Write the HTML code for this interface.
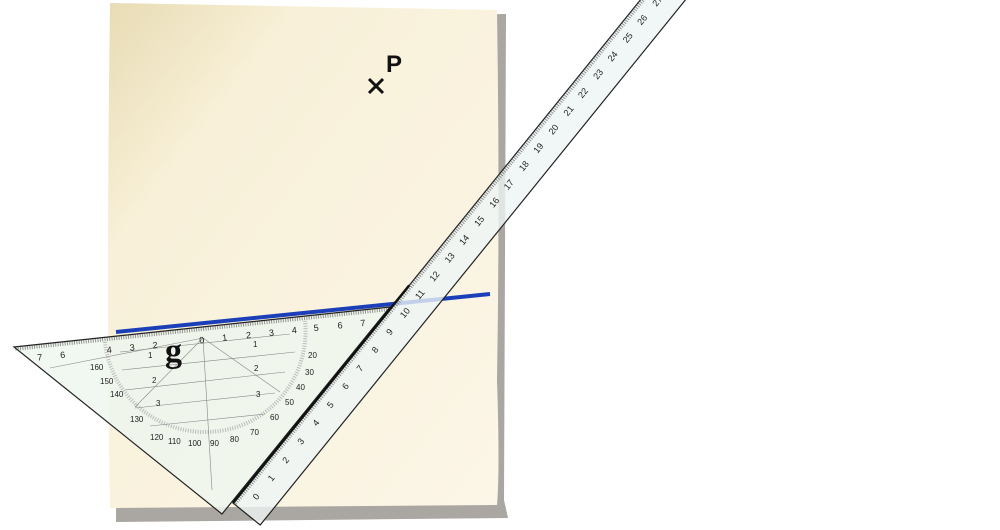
<!DOCTYPE html>
<html><head><meta charset="utf-8"><style>
html,body{margin:0;padding:0;background:#fff;width:1000px;height:530px;overflow:hidden}
svg text{font-family:"Liberation Sans",sans-serif}
</style></head><body>
<svg width="1000" height="530" viewBox="0 0 1000 530" xmlns="http://www.w3.org/2000/svg">
<defs>
<linearGradient id="pg" x1="0" y1="0" x2="1" y2="1">
<stop offset="0" stop-color="#e8dcb4"/><stop offset="0.25" stop-color="#f8f0d8"/><stop offset="1" stop-color="#fcf6e8"/>
</linearGradient>
<pattern id="rt" width="2.36" height="35" patternUnits="userSpaceOnUse" x="20">
<line x1="0.5" y1="0" x2="0.5" y2="4" stroke="#333" stroke-width="0.5"/>
</pattern>
</defs>
<path d="M118 20 L506 14 L504 500 L508 518 L116 522 Z" fill="#aaa6a2"/>
<path d="M110 3 L497 10 Q500 200 497 380 Q500 470 497 505 L110 508 Q106 300 110 3 Z" fill="url(#pg)"/>
<path d="M369 79 L383 93 M383 79 L369 93" stroke="#111" stroke-width="3"/>
<text x="386" y="72" font-size="24" font-weight="bold" fill="#111">P</text>
<line x1="116" y1="332" x2="490" y2="294" stroke="#1a3fb8" stroke-width="4"/>
<polygon points="14,347 390,307 222,514" fill="#eef6ee" fill-opacity="0.85" stroke="#222" stroke-width="1.2"/>
<g stroke="#888" stroke-width="0.6" fill="none">
<path d="M105 342 A100 100 0 0 0 305 321" stroke-dasharray="1 1.5" stroke-width="4" stroke="#bbb"/>
<line x1="120" y1="352" x2="290" y2="334"/><line x1="122" y1="370" x2="295" y2="352"/>
<line x1="125" y1="390" x2="285" y2="372"/><line x1="135" y1="408" x2="275" y2="393"/>
<line x1="150" y1="426" x2="265" y2="414"/>
<line x1="203" y1="338" x2="212" y2="490"/><line x1="203" y1="338" x2="135" y2="407"/>
<line x1="203" y1="338" x2="280" y2="392"/><line x1="203" y1="338" x2="50" y2="368"/>
</g>
<g transform="translate(14,347) rotate(-6.07)">
<rect x="0" y="0" width="376" height="6" fill="url(#rt)"/>
<g font-size="9" fill="#222">
<text x="22" y="16">7</text><text x="45" y="16">6</text><text x="92" y="16">4</text><text x="115" y="16">3</text><text x="138" y="16">2</text><text x="185" y="16">0</text><text x="208" y="16">1</text><text x="232" y="16">2</text><text x="255" y="16">3</text><text x="278" y="16">4</text><text x="300" y="16">5</text><text x="324" y="16">6</text><text x="347" y="16">7</text>
</g></g>
<g font-size="8" fill="#222">
<text x="110" y="397">140</text><text x="130" y="422">130</text><text x="150" y="440">120</text><text x="168" y="444">110</text><text x="188" y="446">100</text><text x="210" y="446">90</text><text x="230" y="442">80</text><text x="250" y="435">70</text><text x="270" y="420">60</text><text x="285" y="405">50</text><text x="296" y="390">40</text><text x="305" y="375">30</text><text x="308" y="358">20</text>
<text x="148" y="358">1</text><text x="152" y="383">2</text><text x="156" y="406">3</text><text x="253" y="347">1</text><text x="254" y="371">2</text><text x="256" y="397">3</text>
<text x="90" y="370">160</text><text x="100" y="384">150</text>
</g>
<text x="165" y="362" font-size="34" font-weight="bold" fill="#111" style="font-family:'Liberation Serif',serif">g</text>
<g transform="translate(233,503) rotate(-51.0)">
<rect x="0" y="0" width="730" height="35" fill="#edf5f5" fill-opacity="0.8" stroke="#222" stroke-width="1.2"/>
<rect x="0" y="0" width="730" height="5" fill="url(#rt)"/>
<line x1="0" y1="0" x2="280" y2="0" stroke="#111" stroke-width="2.5"/>
<g font-size="9" fill="#222">
<text x="17" y="17">0</text><text x="41" y="17">1</text><text x="64" y="17">2</text><text x="88" y="17">3</text><text x="112" y="17">4</text><text x="135" y="17">5</text><text x="159" y="17">6</text><text x="182" y="17">7</text><text x="206" y="17">8</text><text x="229" y="17">9</text><text x="251" y="17">10</text><text x="275" y="17">11</text><text x="298" y="17">12</text><text x="322" y="17">13</text><text x="345" y="17">14</text><text x="369" y="17">15</text><text x="393" y="17">16</text><text x="416" y="17">17</text><text x="440" y="17">18</text><text x="463" y="17">19</text><text x="487" y="17">20</text><text x="511" y="17">21</text><text x="534" y="17">22</text><text x="558" y="17">23</text><text x="581" y="17">24</text><text x="605" y="17">25</text><text x="628" y="17">26</text><text x="652" y="17">27</text>
</g></g>
</svg>
</body></html>
